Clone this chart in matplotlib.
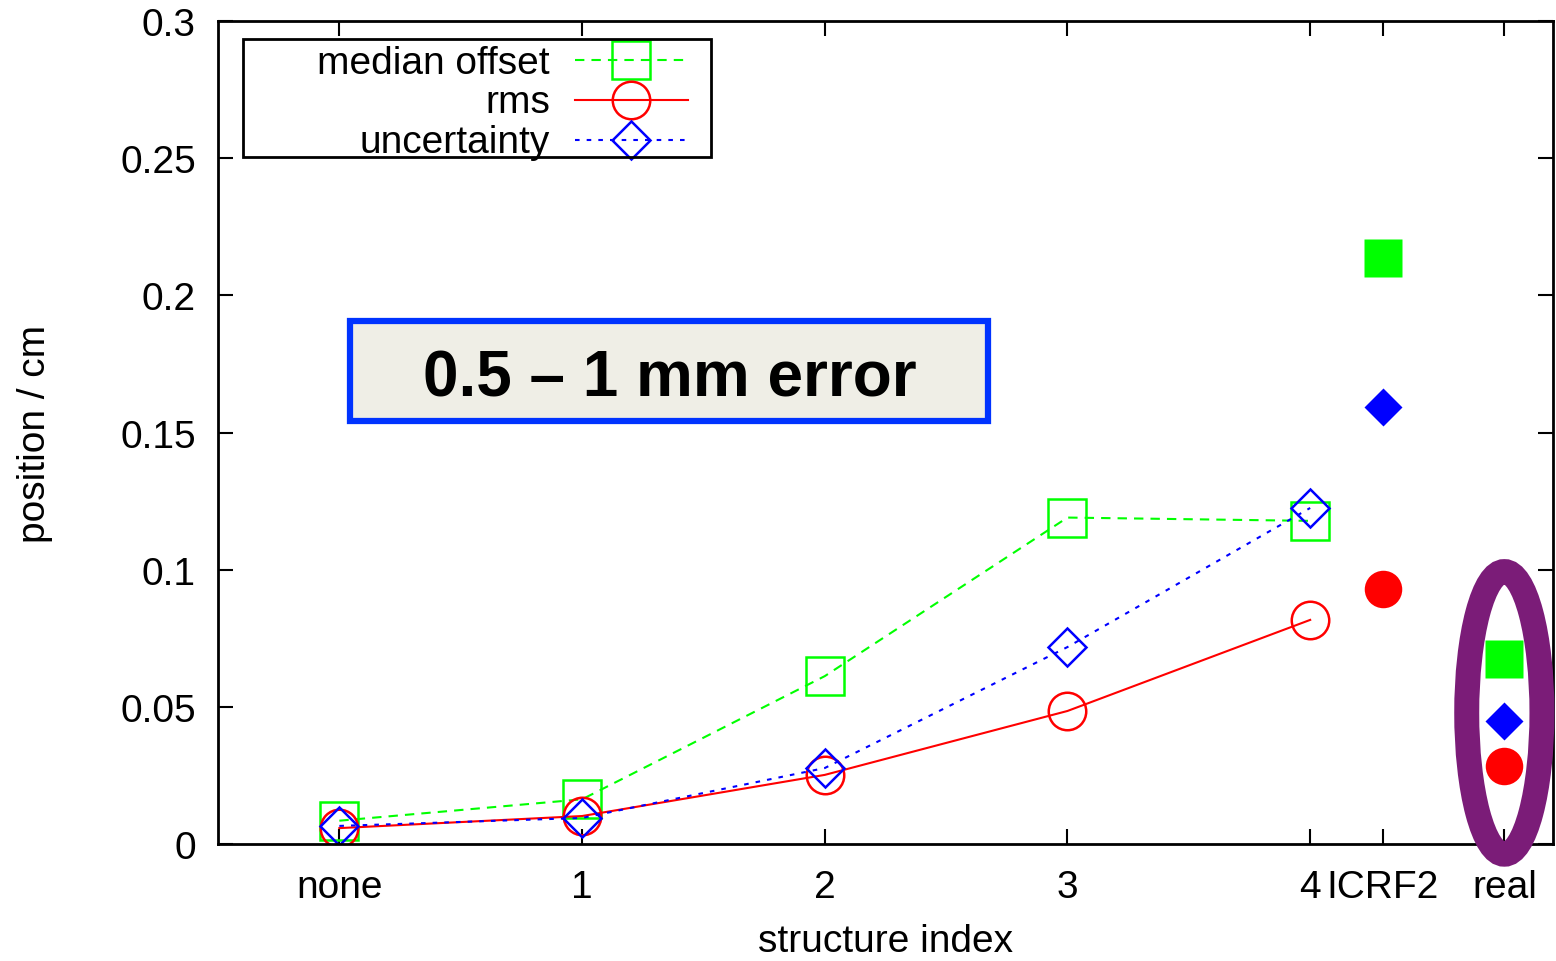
import matplotlib
matplotlib.use("Agg")
import matplotlib.pyplot as plt
from matplotlib.patches import Ellipse, Rectangle
from matplotlib.lines import Line2D

plt.rcParams['font.family'] = ['Liberation Sans', 'DejaVu Sans']

# structure index data
idx = [0, 1, 2, 3, 4]
median_offset = [0.0085, 0.0163, 0.0612, 0.1190, 0.1178]
rms = [0.0058, 0.0102, 0.0252, 0.0485, 0.0817]
uncertainty = [0.0066, 0.0095, 0.0277, 0.0718, 0.1225]

# ICRF2 and real values
x_icrf2 = 4.3
icrf2_median, icrf2_rms, icrf2_unc = 0.2136, 0.0930, 0.1593
x_real = 4.8
real_median, real_rms, real_unc = 0.0674, 0.0284, 0.0448

tick_pos = [0, 1, 2, 3, 4, x_icrf2, x_real]
tick_labels = ["none", "1", "2", "3", "4", "ICRF2", "real"]

GREEN, RED, BLUE = "#00ff00", "#ff0000", "#0000ff"

fig = plt.figure(figsize=(15.56, 9.62), dpi=100)
ax = fig.add_axes([0.1401, 0.1216, 0.8579, 0.8555])

ms = 27
ax.plot(idx, median_offset, color=GREEN, ls=(0, (4.5, 3.4)), lw=1.5, marker="s",
        ms=ms, mfc="none", mec=GREEN, mew=1.8)
ax.plot(idx, rms, color=RED, ls="-", lw=1.5, marker="o",
        ms=ms, mfc="none", mec=RED, mew=1.8)
ax.plot(idx, uncertainty, color=BLUE, ls=(0, (2.2, 3.4)), lw=1.5, marker="D",
        ms=ms * 0.72, mfc="none", mec=BLUE, mew=1.8)

# filled points for ICRF2 and real
for xx, vals in [(x_icrf2, (icrf2_median, icrf2_rms, icrf2_unc)),
                 (x_real, (real_median, real_rms, real_unc))]:
    ax.plot([xx], [vals[0]], ls="none", marker="s", ms=ms, color=GREEN, mec="none")
    ax.plot([xx], [vals[1]], ls="none", marker="o", ms=ms, color=RED, mec="none")
    ax.plot([xx], [vals[2]], ls="none", marker="D", ms=ms * 0.72, color=BLUE, mec="none")

# purple ellipse around the real values
ax.add_patch(Ellipse((x_real, 0.0478), 0.31, 0.103, fill=False,
                     ec="#7b1c78", lw=18, clip_on=False, zorder=5))

ax.set_xlim(-0.5, 5.0)
ax.set_ylim(0, 0.3)
ax.set_xticks(tick_pos)
ax.set_xticklabels(tick_labels)
ax.set_yticks([0, 0.05, 0.1, 0.15, 0.2, 0.25, 0.3])
ax.set_yticklabels(["0", "0.05", "0.1", "0.15", "0.2", "0.25", "0.3"])
ax.tick_params(direction="in", length=11, width=1.5, top=True, right=True,
               labelsize=28)
ax.tick_params(axis="x", pad=18)
ax.tick_params(axis="y", pad=16)
for s in ax.spines.values():
    s.set_linewidth(2)
ax.set_xlabel("structure index", fontsize=28, va="center")
ax.set_ylabel("position / cm", fontsize=28, va="center")
ax.xaxis.set_label_coords(0.5, -0.118)
ax.yaxis.set_label_coords(-0.137, 0.5)

# legend box drawn by hand (text right-aligned, sample on the right)
ax.add_patch(Rectangle((0.0187, 0.8348), 0.3506, 0.1432, transform=ax.transAxes,
                       fill=False, ec="black", lw=2, zorder=6))
legend_rows = [("median offset", GREEN, (0, (4.5, 3.4)), "s", ms),
               ("rms", RED, "-", "o", ms),
               ("uncertainty", BLUE, (0, (2.2, 3.4)), "D", ms * 0.72)]
for i, (lab, c, ls, mk, size) in enumerate(legend_rows):
    yy = 0.9526 - i * 0.0483
    ax.text(0.2487, yy - 0.003, lab, transform=ax.transAxes, ha="right",
            va="center", fontsize=28)
    ax.add_line(Line2D([0.2674, 0.352], [yy, yy], transform=ax.transAxes,
                       color=c, ls=ls, lw=1.5))
    ax.add_line(Line2D([0.3094], [yy], transform=ax.transAxes, ls="none",
                       marker=mk, ms=size, mfc="none", mec=c, mew=1.8))

# annotation box
ax.add_patch(Rectangle((0.0989, 0.514), 0.4779, 0.1215, transform=ax.transAxes,
                       fc="#efeee6", ec="#0033ff", lw=4.5, zorder=6))
ax.text(0.3386, 0.566, "0.5 \u2013 1 mm error", transform=ax.transAxes,
        ha="center", va="center", fontsize=46, fontweight="bold", zorder=7)

fig.savefig("out.png", dpi=100)
